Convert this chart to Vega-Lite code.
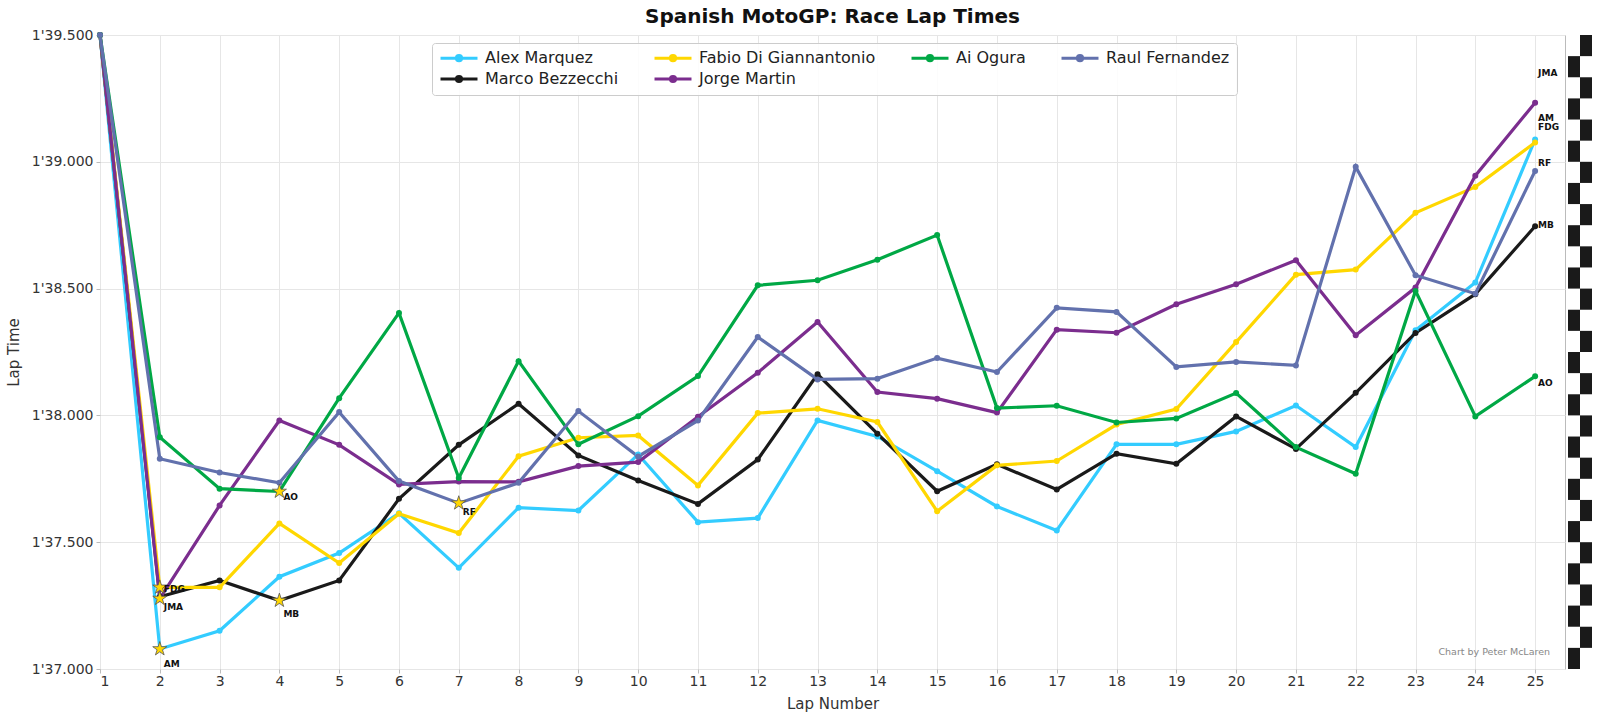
{
  "$schema": "https://vega.github.io/schema/vega-lite/v6.json",
  "background": "white",
  "padding": {"left": 5, "top": 6, "right": 4, "bottom": 4},
  "datasets": {
    "laps": [
      {"rider": "Alex Marquez", "lap": 1, "time": 99.5},
      {"rider": "Alex Marquez", "lap": 2, "time": 97.079},
      {"rider": "Alex Marquez", "lap": 3, "time": 97.151},
      {"rider": "Alex Marquez", "lap": 4, "time": 97.364},
      {"rider": "Alex Marquez", "lap": 5, "time": 97.457},
      {"rider": "Alex Marquez", "lap": 6, "time": 97.614},
      {"rider": "Alex Marquez", "lap": 7, "time": 97.399},
      {"rider": "Alex Marquez", "lap": 8, "time": 97.636},
      {"rider": "Alex Marquez", "lap": 9, "time": 97.625},
      {"rider": "Alex Marquez", "lap": 10, "time": 97.846},
      {"rider": "Alex Marquez", "lap": 11, "time": 97.579},
      {"rider": "Alex Marquez", "lap": 12, "time": 97.595},
      {"rider": "Alex Marquez", "lap": 13, "time": 97.98},
      {"rider": "Alex Marquez", "lap": 14, "time": 97.917},
      {"rider": "Alex Marquez", "lap": 15, "time": 97.78},
      {"rider": "Alex Marquez", "lap": 16, "time": 97.641},
      {"rider": "Alex Marquez", "lap": 17, "time": 97.546},
      {"rider": "Alex Marquez", "lap": 18, "time": 97.886},
      {"rider": "Alex Marquez", "lap": 19, "time": 97.886},
      {"rider": "Alex Marquez", "lap": 20, "time": 97.937},
      {"rider": "Alex Marquez", "lap": 21, "time": 98.039},
      {"rider": "Alex Marquez", "lap": 22, "time": 97.875},
      {"rider": "Alex Marquez", "lap": 23, "time": 98.336},
      {"rider": "Alex Marquez", "lap": 24, "time": 98.524},
      {"rider": "Alex Marquez", "lap": 25, "time": 99.088},
      {"rider": "Marco Bezzecchi", "lap": 1, "time": 99.5},
      {"rider": "Marco Bezzecchi", "lap": 2, "time": 97.285},
      {"rider": "Marco Bezzecchi", "lap": 3, "time": 97.349},
      {"rider": "Marco Bezzecchi", "lap": 4, "time": 97.27},
      {"rider": "Marco Bezzecchi", "lap": 5, "time": 97.349},
      {"rider": "Marco Bezzecchi", "lap": 6, "time": 97.671},
      {"rider": "Marco Bezzecchi", "lap": 7, "time": 97.884},
      {"rider": "Marco Bezzecchi", "lap": 8, "time": 98.046},
      {"rider": "Marco Bezzecchi", "lap": 9, "time": 97.842},
      {"rider": "Marco Bezzecchi", "lap": 10, "time": 97.743},
      {"rider": "Marco Bezzecchi", "lap": 11, "time": 97.651},
      {"rider": "Marco Bezzecchi", "lap": 12, "time": 97.826},
      {"rider": "Marco Bezzecchi", "lap": 13, "time": 98.162},
      {"rider": "Marco Bezzecchi", "lap": 14, "time": 97.928},
      {"rider": "Marco Bezzecchi", "lap": 15, "time": 97.701},
      {"rider": "Marco Bezzecchi", "lap": 16, "time": 97.807},
      {"rider": "Marco Bezzecchi", "lap": 17, "time": 97.708},
      {"rider": "Marco Bezzecchi", "lap": 18, "time": 97.849},
      {"rider": "Marco Bezzecchi", "lap": 19, "time": 97.809},
      {"rider": "Marco Bezzecchi", "lap": 20, "time": 97.996},
      {"rider": "Marco Bezzecchi", "lap": 21, "time": 97.868},
      {"rider": "Marco Bezzecchi", "lap": 22, "time": 98.089},
      {"rider": "Marco Bezzecchi", "lap": 23, "time": 98.325},
      {"rider": "Marco Bezzecchi", "lap": 24, "time": 98.478},
      {"rider": "Marco Bezzecchi", "lap": 25, "time": 98.746},
      {"rider": "Fabio Di Giannantonio", "lap": 1, "time": 99.5},
      {"rider": "Fabio Di Giannantonio", "lap": 2, "time": 97.322},
      {"rider": "Fabio Di Giannantonio", "lap": 3, "time": 97.322},
      {"rider": "Fabio Di Giannantonio", "lap": 4, "time": 97.574},
      {"rider": "Fabio Di Giannantonio", "lap": 5, "time": 97.418},
      {"rider": "Fabio Di Giannantonio", "lap": 6, "time": 97.612},
      {"rider": "Fabio Di Giannantonio", "lap": 7, "time": 97.536},
      {"rider": "Fabio Di Giannantonio", "lap": 8, "time": 97.839},
      {"rider": "Fabio Di Giannantonio", "lap": 9, "time": 97.912},
      {"rider": "Fabio Di Giannantonio", "lap": 10, "time": 97.921},
      {"rider": "Fabio Di Giannantonio", "lap": 11, "time": 97.724},
      {"rider": "Fabio Di Giannantonio", "lap": 12, "time": 98.009},
      {"rider": "Fabio Di Giannantonio", "lap": 13, "time": 98.026},
      {"rider": "Fabio Di Giannantonio", "lap": 14, "time": 97.974},
      {"rider": "Fabio Di Giannantonio", "lap": 15, "time": 97.622},
      {"rider": "Fabio Di Giannantonio", "lap": 16, "time": 97.803},
      {"rider": "Fabio Di Giannantonio", "lap": 17, "time": 97.82},
      {"rider": "Fabio Di Giannantonio", "lap": 18, "time": 97.964},
      {"rider": "Fabio Di Giannantonio", "lap": 19, "time": 98.025},
      {"rider": "Fabio Di Giannantonio", "lap": 20, "time": 98.289},
      {"rider": "Fabio Di Giannantonio", "lap": 21, "time": 98.555},
      {"rider": "Fabio Di Giannantonio", "lap": 22, "time": 98.575},
      {"rider": "Fabio Di Giannantonio", "lap": 23, "time": 98.799},
      {"rider": "Fabio Di Giannantonio", "lap": 24, "time": 98.901},
      {"rider": "Fabio Di Giannantonio", "lap": 25, "time": 99.076},
      {"rider": "Jorge Martin", "lap": 1, "time": 99.5},
      {"rider": "Jorge Martin", "lap": 2, "time": 97.278},
      {"rider": "Jorge Martin", "lap": 3, "time": 97.645},
      {"rider": "Jorge Martin", "lap": 4, "time": 97.98},
      {"rider": "Jorge Martin", "lap": 5, "time": 97.884},
      {"rider": "Jorge Martin", "lap": 6, "time": 97.728},
      {"rider": "Jorge Martin", "lap": 7, "time": 97.739},
      {"rider": "Jorge Martin", "lap": 8, "time": 97.738},
      {"rider": "Jorge Martin", "lap": 9, "time": 97.8},
      {"rider": "Jorge Martin", "lap": 10, "time": 97.816},
      {"rider": "Jorge Martin", "lap": 11, "time": 97.995},
      {"rider": "Jorge Martin", "lap": 12, "time": 98.168},
      {"rider": "Jorge Martin", "lap": 13, "time": 98.368},
      {"rider": "Jorge Martin", "lap": 14, "time": 98.092},
      {"rider": "Jorge Martin", "lap": 15, "time": 98.066},
      {"rider": "Jorge Martin", "lap": 16, "time": 98.011},
      {"rider": "Jorge Martin", "lap": 17, "time": 98.338},
      {"rider": "Jorge Martin", "lap": 18, "time": 98.326},
      {"rider": "Jorge Martin", "lap": 19, "time": 98.438},
      {"rider": "Jorge Martin", "lap": 20, "time": 98.517},
      {"rider": "Jorge Martin", "lap": 21, "time": 98.612},
      {"rider": "Jorge Martin", "lap": 22, "time": 98.316},
      {"rider": "Jorge Martin", "lap": 23, "time": 98.504},
      {"rider": "Jorge Martin", "lap": 24, "time": 98.945},
      {"rider": "Jorge Martin", "lap": 25, "time": 99.233},
      {"rider": "Ai Ogura", "lap": 1, "time": 99.5},
      {"rider": "Ai Ogura", "lap": 2, "time": 97.914},
      {"rider": "Ai Ogura", "lap": 3, "time": 97.711},
      {"rider": "Ai Ogura", "lap": 4, "time": 97.7},
      {"rider": "Ai Ogura", "lap": 5, "time": 98.068},
      {"rider": "Ai Ogura", "lap": 6, "time": 98.404},
      {"rider": "Ai Ogura", "lap": 7, "time": 97.753},
      {"rider": "Ai Ogura", "lap": 8, "time": 98.214},
      {"rider": "Ai Ogura", "lap": 9, "time": 97.886},
      {"rider": "Ai Ogura", "lap": 10, "time": 97.997},
      {"rider": "Ai Ogura", "lap": 11, "time": 98.155},
      {"rider": "Ai Ogura", "lap": 12, "time": 98.513},
      {"rider": "Ai Ogura", "lap": 13, "time": 98.533},
      {"rider": "Ai Ogura", "lap": 14, "time": 98.614},
      {"rider": "Ai Ogura", "lap": 15, "time": 98.711},
      {"rider": "Ai Ogura", "lap": 16, "time": 98.029},
      {"rider": "Ai Ogura", "lap": 17, "time": 98.038},
      {"rider": "Ai Ogura", "lap": 18, "time": 97.972},
      {"rider": "Ai Ogura", "lap": 19, "time": 97.988},
      {"rider": "Ai Ogura", "lap": 20, "time": 98.088},
      {"rider": "Ai Ogura", "lap": 21, "time": 97.875},
      {"rider": "Ai Ogura", "lap": 22, "time": 97.77},
      {"rider": "Ai Ogura", "lap": 23, "time": 98.491},
      {"rider": "Ai Ogura", "lap": 24, "time": 97.996},
      {"rider": "Ai Ogura", "lap": 25, "time": 98.154},
      {"rider": "Raul Fernandez", "lap": 1, "time": 99.5},
      {"rider": "Raul Fernandez", "lap": 2, "time": 97.829},
      {"rider": "Raul Fernandez", "lap": 3, "time": 97.775},
      {"rider": "Raul Fernandez", "lap": 4, "time": 97.734},
      {"rider": "Raul Fernandez", "lap": 5, "time": 98.013},
      {"rider": "Raul Fernandez", "lap": 6, "time": 97.741},
      {"rider": "Raul Fernandez", "lap": 7, "time": 97.654},
      {"rider": "Raul Fernandez", "lap": 8, "time": 97.734},
      {"rider": "Raul Fernandez", "lap": 9, "time": 98.017},
      {"rider": "Raul Fernandez", "lap": 10, "time": 97.838},
      {"rider": "Raul Fernandez", "lap": 11, "time": 97.98},
      {"rider": "Raul Fernandez", "lap": 12, "time": 98.309},
      {"rider": "Raul Fernandez", "lap": 13, "time": 98.142},
      {"rider": "Raul Fernandez", "lap": 14, "time": 98.145},
      {"rider": "Raul Fernandez", "lap": 15, "time": 98.226},
      {"rider": "Raul Fernandez", "lap": 16, "time": 98.171},
      {"rider": "Raul Fernandez", "lap": 17, "time": 98.424},
      {"rider": "Raul Fernandez", "lap": 18, "time": 98.408},
      {"rider": "Raul Fernandez", "lap": 19, "time": 98.191},
      {"rider": "Raul Fernandez", "lap": 20, "time": 98.211},
      {"rider": "Raul Fernandez", "lap": 21, "time": 98.197},
      {"rider": "Raul Fernandez", "lap": 22, "time": 98.98},
      {"rider": "Raul Fernandez", "lap": 23, "time": 98.553},
      {"rider": "Raul Fernandez", "lap": 24, "time": 98.48},
      {"rider": "Raul Fernandez", "lap": 25, "time": 98.964}
    ],
    "stars": [
      {"label": "AM", "lap": 2, "time": 97.079, "labelTime": 97.018},
      {"label": "FDG", "lap": 2, "time": 97.322, "labelTime": 97.314},
      {"label": "JMA", "lap": 2, "time": 97.278, "labelTime": 97.244},
      {"label": "MB", "lap": 4, "time": 97.27, "labelTime": 97.217},
      {"label": "AO", "lap": 4, "time": 97.7, "labelTime": 97.678},
      {"label": "RF", "lap": 7, "time": 97.654, "labelTime": 97.618}
    ],
    "ends": [
      {"label": "JMA", "lap": 25, "time": 99.349},
      {"label": "AM", "lap": 25, "time": 99.171},
      {"label": "FDG", "lap": 25, "time": 99.137},
      {"label": "RF", "lap": 25, "time": 98.997},
      {"label": "MB", "lap": 25, "time": 98.749},
      {"label": "AO", "lap": 25, "time": 98.128}
    ],
    "credit": [
      {"text": "Chart by Peter McLaren", "lap": 25.25, "time": 97.067}
    ],
    "flag": [
      {"r": 0, "c": 1}, {"r": 1, "c": 0}, {"r": 2, "c": 1}, {"r": 3, "c": 0},
      {"r": 4, "c": 1}, {"r": 5, "c": 0}, {"r": 6, "c": 1}, {"r": 7, "c": 0},
      {"r": 8, "c": 1}, {"r": 9, "c": 0}, {"r": 10, "c": 1}, {"r": 11, "c": 0},
      {"r": 12, "c": 1}, {"r": 13, "c": 0}, {"r": 14, "c": 1}, {"r": 15, "c": 0},
      {"r": 16, "c": 1}, {"r": 17, "c": 0}, {"r": 18, "c": 1}, {"r": 19, "c": 0},
      {"r": 20, "c": 1}, {"r": 21, "c": 0}, {"r": 22, "c": 1}, {"r": 23, "c": 0},
      {"r": 24, "c": 1}, {"r": 25, "c": 0}, {"r": 26, "c": 1}, {"r": 27, "c": 0},
      {"r": 28, "c": 1}, {"r": 29, "c": 0}
    ]
  },
  "spacing": 2,
  "hconcat": [
    {
      "width": 1465,
      "height": 634,
      "view": {"stroke": "#bbbbbb"},
      "title": {
        "text": "Spanish MotoGP: Race Lap Times",
        "fontSize": 20,
        "fontWeight": "bold",
        "font": "DejaVu Sans",
        "color": "#111111",
        "offset": 1
      },
      "layer": [
        {
          "data": {"name": "laps"},
          "mark": {"type": "line", "strokeWidth": 3.2},
          "encoding": {
            "x": {
              "field": "lap",
              "type": "quantitative",
              "scale": {"domain": [1, 25.5], "nice": false, "zero": false},
              "axis": {
                "title": "Lap Number",
                "format": "d",
                "labelPadding": 1,
                "values": [1, 2, 3, 4, 5, 6, 7, 8, 9, 10, 11, 12, 13, 14, 15, 16, 17, 18, 19, 20, 21, 22, 23, 24, 25]
              }
            },
            "y": {
              "field": "time",
              "type": "quantitative",
              "scale": {"domain": [97, 99.5], "nice": false, "zero": false},
              "axis": {
                "title": "Lap Time",
                "values": [97, 97.5, 98, 98.5, 99, 99.5],
                "labelExpr": "floor(datum.value / 60) + \"'\" + format(datum.value % 60, '06.3f')"
              }
            },
            "color": {
              "field": "rider",
              "type": "nominal",
              "scale": {
                "domain": ["Alex Marquez", "Fabio Di Giannantonio", "Ai Ogura", "Raul Fernandez", "Marco Bezzecchi", "Jorge Martin"],
                "range": ["#33ccff", "#ffd700", "#00a845", "#6271ad", "#1a1a1a", "#7b2d8e"]
              },
              "legend": {
                "title": null,
                "orient": "none",
                "legendX": 332,
                "legendY": 8,
                "direction": "horizontal",
                "columns": 4,
                "symbolType": "M-3,0H3M-0.42,0A0.42,0.42,0,1,1,0.42,0A0.42,0.42,0,1,1,-0.42,0Z",
                "symbolSize": 152,
                "symbolOffset": 12,
                "symbolStrokeWidth": 3,
                "labelFontSize": 16,
                "labelFont": "DejaVu Sans",
                "labelColor": "#222222",
                "labelLimit": 400,
                "labelOffset": 18,
                "columnPadding": 29,
                "rowPadding": 3,
                "padding": 7,
                "strokeColor": "#cccccc",
                "fillColor": "rgba(255,255,255,0.85)",
                "cornerRadius": 3,
                "encode": {
                  "symbols": {
                    "update": {
                      "fill": {"scale": "color", "field": "value"},
                      "stroke": {"scale": "color", "field": "value"},
                      "opacity": {"value": 1}
                    }
                  }
                }
              }
            }
          }
        },
        {
          "data": {"name": "laps"},
          "mark": {"type": "point", "filled": true, "size": 36, "opacity": 1},
          "encoding": {
            "x": {"field": "lap", "type": "quantitative"},
            "y": {"field": "time", "type": "quantitative"},
            "color": {"field": "rider", "type": "nominal"}
          }
        },
        {
          "data": {"name": "stars"},
          "mark": {
            "type": "point",
            "shape": "M0,-1L0.2245,-0.309L0.951,-0.309L0.363,0.118L0.588,0.809L0,0.382L-0.588,0.809L-0.363,0.118L-0.951,-0.309L-0.2245,-0.309Z",
            "size": 220,
            "filled": true,
            "fill": "#ffd700",
            "stroke": "#555555",
            "strokeWidth": 0.8,
            "opacity": 1
          },
          "encoding": {
            "x": {"field": "lap", "type": "quantitative"},
            "y": {"field": "time", "type": "quantitative"}
          }
        },
        {
          "data": {"name": "stars"},
          "mark": {"type": "text", "align": "left", "baseline": "middle", "dx": 4, "fontSize": 9, "fontWeight": "bold", "font": "DejaVu Sans", "color": "#111111"},
          "encoding": {
            "x": {"field": "lap", "type": "quantitative"},
            "y": {"field": "labelTime", "type": "quantitative"},
            "text": {"field": "label"}
          }
        },
        {
          "data": {"name": "ends"},
          "mark": {"type": "text", "align": "left", "baseline": "middle", "dx": 3, "fontSize": 9, "fontWeight": "bold", "font": "DejaVu Sans", "color": "#111111"},
          "encoding": {
            "x": {"field": "lap", "type": "quantitative"},
            "y": {"field": "time", "type": "quantitative"},
            "text": {"field": "label"}
          }
        },
        {
          "data": {"name": "credit"},
          "mark": {"type": "text", "align": "right", "baseline": "middle", "fontSize": 9.5, "font": "DejaVu Sans", "color": "#888888"},
          "encoding": {
            "x": {"field": "lap", "type": "quantitative"},
            "y": {"field": "time", "type": "quantitative"},
            "text": {"field": "text"}
          }
        }
      ]
    },
    {
      "width": 24,
      "height": 634,
      "view": {"stroke": null},
      "data": {"name": "flag"},
      "mark": {"type": "rect", "color": "#1a1a1a"},
      "encoding": {
        "x": {"field": "c", "type": "ordinal", "axis": null, "scale": {"paddingInner": 0, "paddingOuter": 0}},
        "y": {"field": "r", "type": "ordinal", "axis": null, "scale": {"paddingInner": 0, "paddingOuter": 0}}
      }
    }
  ],
  "config": {
    "font": "DejaVu Sans",
    "view": {"stroke": null},
    "axis": {
      "labelFont": "DejaVu Sans",
      "titleFont": "DejaVu Sans",
      "labelFontSize": 14,
      "titleFontSize": 15,
      "titleFontWeight": "normal",
      "labelColor": "#333333",
      "titleColor": "#333333",
      "gridColor": "#e6e6e6",
      "gridWidth": 1,
      "tickColor": "#bbbbbb",
      "tickSize": 4,
      "domain": false,
      "labelPadding": 3
    },
    "axisX": {"titlePadding": 8},
    "axisY": {"titlePadding": 10}
  }
}
